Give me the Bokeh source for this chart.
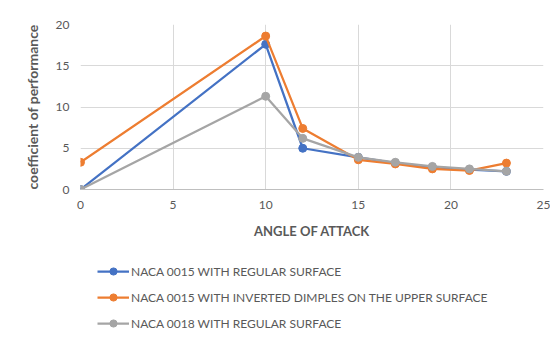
from bokeh.plotting import figure
from bokeh.models import Legend, LegendItem, Range1d, FixedTicker
from bokeh.layouts import column
from bokeh.embed import file_html
from bokeh.resources import INLINE

angle = [0, 10, 12, 15, 17, 19, 21, 23]
naca0015_regular = [0.0, 17.6, 5.0, 3.9, 3.2, 2.7, 2.4, 2.2]
naca0015_dimples = [3.3, 18.6, 7.4, 3.6, 3.1, 2.5, 2.3, 3.2]
naca0018_regular = [0.0, 11.3, 6.2, 3.9, 3.3, 2.8, 2.5, 2.2]
series_names = ["NACA 0015 WITH REGULAR SURFACE",
                "NACA 0015 WITH INVERTED DIMPLES ON THE UPPER SURFACE",
                "NACA 0018 WITH REGULAR SURFACE"]
x_ticks = [0, 5, 10, 15, 20, 25]
y_ticks = [0, 5, 10, 15, 20]

FONT = "Lato"
TXT = "#595959"

p = figure(width=550, height=252, output_backend="svg", toolbar_location=None,
           x_range=Range1d(0, 25), y_range=Range1d(0, 20),
           min_border_left=80, min_border_right=7, min_border_top=24,
           min_border_bottom=63)
p.outline_line_color = None
p.background_fill_color = "white"
p.border_fill_color = "white"

p.xaxis.ticker = FixedTicker(ticks=x_ticks)
p.yaxis.ticker = FixedTicker(ticks=y_ticks)
for ax in (p.xaxis, p.yaxis):
    ax.major_tick_line_color = None
    ax.minor_tick_line_color = None
    ax.major_label_text_font = FONT
    ax.major_label_text_font_size = "12px"
    ax.major_label_text_color = TXT
    ax.axis_label_text_font = FONT
    ax.axis_label_text_font_style = "bold"
    ax.axis_label_text_color = TXT
p.xaxis.axis_label_text_font_size = "13px"
p.yaxis.axis_label_text_font_size = "14px"
p.xaxis.axis_line_color = "#bfbfbf"
p.yaxis.axis_line_color = None
p.xaxis.axis_label = "ANGLE OF ATTACK"
p.yaxis.axis_label = "coefficient of performance"
p.xaxis.axis_label_standoff = 11
p.yaxis.axis_label_standoff = 12
p.grid.grid_line_color = "#d9d9d9"

colors = ["#4472C4", "#ED7D31", "#A5A5A5"]
data = [naca0015_regular, naca0015_dimples, naca0018_regular]

# legend panel (its frame is aligned with the chart's frame by the column)
p2 = figure(width=550, height=85, output_backend="svg", toolbar_location=None,
            x_axis_location=None, y_axis_location=None,
            x_range=Range1d(0, 1), y_range=Range1d(0, 1),
            min_border=0)
p2.outline_line_color = None
p2.grid.visible = False

items = []
for name, ys, c in zip(series_names, data, colors):
    p.line(angle, ys, line_color=c, line_width=2.25)
    p.scatter(angle, ys, size=8, fill_color=c, line_color=c)
    # off-screen copies, only used to draw the legend glyphs
    l = p2.line(x=angle[:2], y=[-10, -10], line_color=c, line_width=2.25)
    s = p2.scatter(x=angle[:1], y=[-10], size=8, fill_color=c, line_color=c)
    items.append(LegendItem(label=name, renderers=[l, s]))

legend = Legend(items=items, orientation="vertical", location=(17, 5))
legend.label_text_font = FONT
legend.label_text_font_size = "12px"
legend.label_text_color = TXT
legend.border_line_color = None
legend.background_fill_alpha = 0
legend.glyph_width = 32
legend.label_standoff = 2
legend.spacing = 8
legend.margin = 0
legend.padding = 0
legend.label_height = 18
legend.glyph_height = 18
p2.add_layout(legend, "center")

layout = column(p, p2, spacing=0)
open("out.html", "w").write(file_html(layout, INLINE))
